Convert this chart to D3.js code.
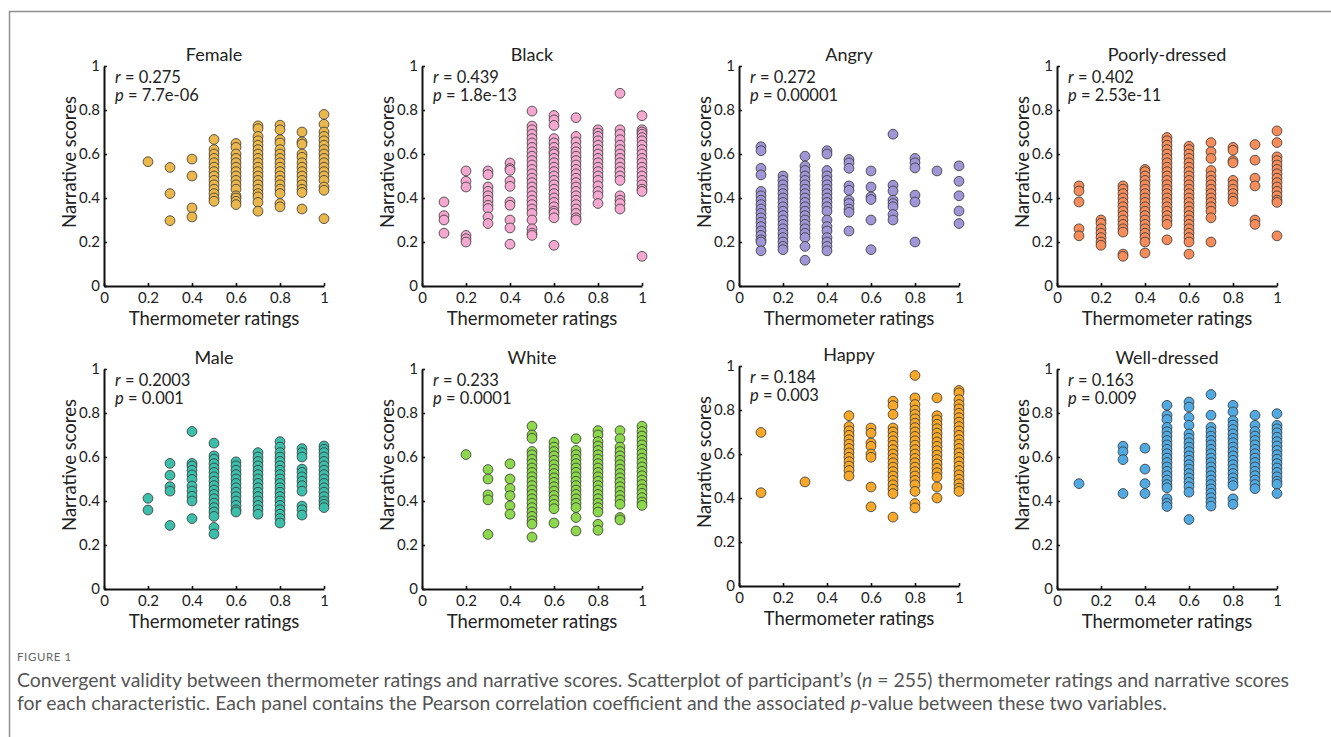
<!DOCTYPE html>
<html>
<head>
<meta charset="utf-8">
<script src="https://cdn.jsdelivr.net/npm/d3@7"></script>
<style>
  html, body { margin: 0; padding: 0; background: #fff; }
  svg { display: block; }
</style>
</head>
<body>
<div id="chart"></div>
<script>
// ---- data ----
const panelTitles = ['Female', 'Black', 'Angry', 'Poorly-dressed', 'Male', 'White', 'Happy', 'Well-dressed'];
const rValues = ['0.275', '0.439', '0.272', '0.402', '0.2003', '0.233', '0.184', '0.163'];
const pValues = ['7.7e-06', '1.8e-13', '0.00001', '2.53e-11', '0.001', '0.0001', '0.003', '0.009'];
const axisTicks = [0, 0.2, 0.4, 0.6, 0.8, 1];
const tickLabels = ['0', '0.2', '0.4', '0.6', '0.8', '1'];

// each entry: [thermometer rating, narrative scores]
const femaleScores = [
  [0.2, [0.565]],
  [0.3, [0.539, 0.42, 0.297]],
  [0.4, [0.577, 0.50, 0.355, 0.314]],
  [0.5, [0.666, 0.62, 0.60, 0.58, 0.56, 0.54, 0.52, 0.50, 0.48, 0.46, 0.44, 0.42, 0.40, 0.385]],
  [0.6, [0.648, 0.63, 0.60, 0.58, 0.56, 0.54, 0.52, 0.50, 0.48, 0.46, 0.44, 0.41, 0.40, 0.385, 0.37]],
  [0.7, [0.728, 0.715, 0.68, 0.66, 0.64, 0.62, 0.60, 0.58, 0.56, 0.54, 0.52, 0.50, 0.48, 0.46, 0.44, 0.42, 0.405, 0.38, 0.34]],
  [0.8, [0.731, 0.71, 0.665, 0.65, 0.62, 0.60, 0.58, 0.56, 0.54, 0.52, 0.50, 0.48, 0.46, 0.44, 0.42, 0.375, 0.36]],
  [0.9, [0.70, 0.655, 0.645, 0.60, 0.585, 0.56, 0.54, 0.52, 0.50, 0.48, 0.46, 0.44, 0.425, 0.35]],
  [1.0, [0.78, 0.735, 0.70, 0.68, 0.66, 0.64, 0.62, 0.60, 0.58, 0.56, 0.54, 0.52, 0.50, 0.48, 0.45, 0.435, 0.306]]
];
const blackScores = [
  [0.1, [0.382, 0.32, 0.30, 0.24]],
  [0.2, [0.523, 0.476, 0.45, 0.23, 0.215, 0.20]],
  [0.3, [0.523, 0.506, 0.45, 0.43, 0.41, 0.39, 0.367, 0.352, 0.314, 0.284]],
  [0.4, [0.559, 0.534, 0.526, 0.477, 0.453, 0.382, 0.367, 0.30, 0.264, 0.19]],
  [0.5, [0.795, 0.727, 0.71, 0.69, 0.67, 0.65, 0.63, 0.61, 0.59, 0.57, 0.55, 0.53, 0.51, 0.49, 0.47, 0.45, 0.43, 0.41, 0.39, 0.37, 0.35, 0.33, 0.30, 0.26, 0.24, 0.23]],
  [0.6, [0.775, 0.755, 0.73, 0.67, 0.65, 0.63, 0.61, 0.60, 0.58, 0.56, 0.54, 0.52, 0.50, 0.48, 0.46, 0.44, 0.42, 0.40, 0.38, 0.36, 0.34, 0.33, 0.31, 0.185]],
  [0.7, [0.765, 0.68, 0.655, 0.63, 0.61, 0.59, 0.57, 0.55, 0.53, 0.51, 0.49, 0.47, 0.45, 0.43, 0.41, 0.39, 0.37, 0.35, 0.33, 0.31, 0.30]],
  [0.8, [0.71, 0.695, 0.68, 0.66, 0.64, 0.62, 0.60, 0.58, 0.56, 0.54, 0.52, 0.50, 0.48, 0.455, 0.43, 0.41, 0.375]],
  [0.9, [0.876, 0.71, 0.69, 0.665, 0.64, 0.62, 0.60, 0.58, 0.56, 0.54, 0.52, 0.50, 0.48, 0.41, 0.39, 0.375, 0.35]],
  [1.0, [0.774, 0.71, 0.70, 0.69, 0.675, 0.66, 0.64, 0.62, 0.60, 0.58, 0.56, 0.54, 0.52, 0.50, 0.48, 0.46, 0.44, 0.43, 0.135]]
];
const angryScores = [
  [0.1, [0.633, 0.615, 0.535, 0.505, 0.43, 0.41, 0.39, 0.37, 0.35, 0.33, 0.31, 0.29, 0.27, 0.25, 0.23, 0.21, 0.20, 0.16]],
  [0.2, [0.50, 0.48, 0.46, 0.44, 0.42, 0.40, 0.38, 0.36, 0.34, 0.32, 0.30, 0.28, 0.26, 0.24, 0.22, 0.20, 0.18, 0.165]],
  [0.3, [0.59, 0.545, 0.525, 0.50, 0.48, 0.46, 0.44, 0.42, 0.40, 0.38, 0.36, 0.34, 0.32, 0.30, 0.28, 0.26, 0.24, 0.22, 0.18, 0.117]],
  [0.4, [0.615, 0.60, 0.525, 0.50, 0.48, 0.46, 0.44, 0.42, 0.40, 0.38, 0.36, 0.34, 0.30, 0.27, 0.25, 0.22, 0.20, 0.18, 0.16]],
  [0.5, [0.575, 0.56, 0.535, 0.455, 0.435, 0.39, 0.375, 0.35, 0.335, 0.25]],
  [0.6, [0.523, 0.45, 0.405, 0.393, 0.30, 0.165]],
  [0.7, [0.69, 0.458, 0.432, 0.39, 0.375, 0.36, 0.325, 0.30]],
  [0.8, [0.58, 0.56, 0.537, 0.413, 0.382, 0.20]],
  [0.9, [0.523]],
  [1.0, [0.546, 0.476, 0.41, 0.341, 0.284]]
];
const poorlyScores = [
  [0.1, [0.455, 0.432, 0.382, 0.26, 0.228]],
  [0.2, [0.30, 0.285, 0.26, 0.24, 0.22, 0.20, 0.185]],
  [0.3, [0.455, 0.44, 0.42, 0.40, 0.38, 0.36, 0.34, 0.32, 0.30, 0.28, 0.26, 0.245, 0.145, 0.135]],
  [0.4, [0.53, 0.52, 0.50, 0.48, 0.46, 0.44, 0.42, 0.40, 0.38, 0.36, 0.34, 0.32, 0.30, 0.28, 0.26, 0.24, 0.22, 0.20, 0.15]],
  [0.5, [0.675, 0.66, 0.64, 0.62, 0.60, 0.58, 0.56, 0.54, 0.52, 0.50, 0.48, 0.46, 0.44, 0.42, 0.40, 0.38, 0.36, 0.34, 0.32, 0.30, 0.28, 0.21]],
  [0.6, [0.635, 0.62, 0.60, 0.58, 0.56, 0.54, 0.52, 0.50, 0.48, 0.46, 0.44, 0.42, 0.40, 0.38, 0.36, 0.34, 0.32, 0.30, 0.28, 0.26, 0.24, 0.22, 0.20, 0.145]],
  [0.7, [0.652, 0.61, 0.58, 0.525, 0.50, 0.48, 0.46, 0.44, 0.42, 0.40, 0.38, 0.36, 0.34, 0.31, 0.20]],
  [0.8, [0.63, 0.617, 0.57, 0.56, 0.48, 0.46, 0.44, 0.42, 0.40, 0.385]],
  [0.9, [0.643, 0.572, 0.49, 0.455, 0.30, 0.28]],
  [1.0, [0.705, 0.652, 0.587, 0.57, 0.55, 0.53, 0.51, 0.49, 0.47, 0.45, 0.43, 0.41, 0.39, 0.38, 0.228]]
];
const maleScores = [
  [0.2, [0.412, 0.359]],
  [0.3, [0.571, 0.517, 0.465, 0.445, 0.289]],
  [0.4, [0.716, 0.571, 0.559, 0.54, 0.518, 0.498, 0.468, 0.445, 0.422, 0.40, 0.32]],
  [0.5, [0.663, 0.605, 0.59, 0.57, 0.55, 0.53, 0.51, 0.49, 0.47, 0.45, 0.43, 0.41, 0.39, 0.37, 0.35, 0.33, 0.28, 0.25]],
  [0.6, [0.578, 0.56, 0.54, 0.52, 0.50, 0.48, 0.46, 0.44, 0.42, 0.40, 0.38, 0.36, 0.35]],
  [0.7, [0.62, 0.60, 0.58, 0.56, 0.54, 0.52, 0.50, 0.48, 0.46, 0.44, 0.42, 0.40, 0.38, 0.36, 0.34]],
  [0.8, [0.67, 0.645, 0.62, 0.60, 0.58, 0.56, 0.54, 0.52, 0.50, 0.48, 0.46, 0.44, 0.42, 0.40, 0.38, 0.36, 0.34, 0.32, 0.30]],
  [0.9, [0.638, 0.62, 0.60, 0.545, 0.53, 0.51, 0.49, 0.47, 0.445, 0.377, 0.36, 0.336]],
  [1.0, [0.65, 0.635, 0.62, 0.60, 0.58, 0.56, 0.54, 0.52, 0.50, 0.48, 0.46, 0.44, 0.42, 0.40, 0.385, 0.37]]
];
const whiteScores = [
  [0.2, [0.611]],
  [0.3, [0.543, 0.50, 0.428, 0.405, 0.248]],
  [0.4, [0.569, 0.50, 0.457, 0.424, 0.378, 0.34]],
  [0.5, [0.74, 0.70, 0.685, 0.625, 0.61, 0.59, 0.57, 0.55, 0.53, 0.51, 0.49, 0.47, 0.45, 0.43, 0.41, 0.39, 0.37, 0.35, 0.33, 0.31, 0.295, 0.236]],
  [0.6, [0.667, 0.645, 0.625, 0.605, 0.585, 0.565, 0.545, 0.525, 0.505, 0.485, 0.465, 0.445, 0.425, 0.405, 0.385, 0.365, 0.30]],
  [0.7, [0.683, 0.63, 0.61, 0.59, 0.57, 0.55, 0.53, 0.51, 0.49, 0.47, 0.45, 0.43, 0.41, 0.39, 0.37, 0.325, 0.264]],
  [0.8, [0.72, 0.70, 0.67, 0.65, 0.63, 0.61, 0.59, 0.57, 0.55, 0.53, 0.51, 0.49, 0.47, 0.45, 0.43, 0.41, 0.39, 0.37, 0.35, 0.294, 0.267]],
  [0.9, [0.72, 0.683, 0.645, 0.625, 0.605, 0.585, 0.565, 0.545, 0.525, 0.505, 0.485, 0.465, 0.445, 0.425, 0.405, 0.385, 0.325, 0.314]],
  [1.0, [0.74, 0.716, 0.695, 0.675, 0.655, 0.635, 0.615, 0.595, 0.575, 0.555, 0.535, 0.515, 0.495, 0.475, 0.455, 0.435, 0.415, 0.395, 0.38]]
];
const happyScores = [
  [0.1, [0.698, 0.424]],
  [0.3, [0.473]],
  [0.5, [0.774, 0.725, 0.705, 0.685, 0.665, 0.645, 0.625, 0.605, 0.585, 0.565, 0.545, 0.525, 0.50]],
  [0.6, [0.718, 0.695, 0.65, 0.635, 0.60, 0.585, 0.45, 0.36]],
  [0.7, [0.84, 0.82, 0.78, 0.718, 0.70, 0.68, 0.66, 0.64, 0.62, 0.60, 0.58, 0.56, 0.54, 0.52, 0.50, 0.48, 0.46, 0.44, 0.42, 0.313]],
  [0.8, [0.957, 0.855, 0.825, 0.80, 0.78, 0.76, 0.74, 0.72, 0.70, 0.68, 0.66, 0.64, 0.62, 0.60, 0.58, 0.56, 0.54, 0.52, 0.50, 0.48, 0.46, 0.43, 0.375, 0.355]],
  [0.9, [0.855, 0.774, 0.755, 0.735, 0.715, 0.695, 0.675, 0.655, 0.635, 0.615, 0.595, 0.575, 0.555, 0.535, 0.515, 0.495, 0.45, 0.40]],
  [1.0, [0.889, 0.878, 0.847, 0.825, 0.805, 0.785, 0.765, 0.745, 0.725, 0.705, 0.685, 0.665, 0.645, 0.625, 0.605, 0.585, 0.565, 0.545, 0.525, 0.505, 0.485, 0.465, 0.445, 0.43]]
];
const wellScores = [
  [0.1, [0.479]],
  [0.3, [0.649, 0.624, 0.588, 0.434]],
  [0.4, [0.64, 0.545, 0.479, 0.434]],
  [0.5, [0.835, 0.79, 0.77, 0.735, 0.715, 0.695, 0.675, 0.655, 0.635, 0.615, 0.595, 0.575, 0.555, 0.535, 0.515, 0.495, 0.475, 0.46, 0.41, 0.39, 0.375]],
  [0.6, [0.85, 0.827, 0.78, 0.744, 0.705, 0.685, 0.665, 0.645, 0.625, 0.605, 0.585, 0.565, 0.545, 0.525, 0.505, 0.485, 0.465, 0.44, 0.316]],
  [0.7, [0.884, 0.79, 0.735, 0.715, 0.695, 0.675, 0.655, 0.635, 0.615, 0.595, 0.575, 0.555, 0.535, 0.515, 0.495, 0.475, 0.455, 0.435, 0.415, 0.395, 0.377]],
  [0.8, [0.835, 0.805, 0.765, 0.745, 0.725, 0.705, 0.685, 0.665, 0.645, 0.625, 0.605, 0.585, 0.565, 0.545, 0.525, 0.505, 0.485, 0.47, 0.41, 0.385]],
  [0.9, [0.79, 0.744, 0.716, 0.695, 0.675, 0.655, 0.635, 0.615, 0.595, 0.575, 0.555, 0.535, 0.515, 0.495, 0.475, 0.456]],
  [1.0, [0.797, 0.744, 0.728, 0.71, 0.69, 0.67, 0.65, 0.63, 0.61, 0.59, 0.57, 0.55, 0.53, 0.51, 0.49, 0.476, 0.434]]
];
const panelScores = [femaleScores, blackScores, angryScores, poorlyScores, maleScores, whiteScores, happyScores, wellScores];

// ---- styles / layout ----
const panelColors = ['#EAB74C', '#F4A8D0', '#A096D7', '#F58C5A', '#3CBEAA', '#8CD74B', '#F8A828', '#50AAE1'];
const colLeft = [104, 422, 739, 1057];
const rowTop = [66, 369];
const yShift = [0, 0, 0, 0, 0, 0, -3, 0];
const plotW = 220, plotH = 220;
const FONT = 'Lato, "Open Sans", sans-serif';

const W = 1331, H = 737;
const svg = d3.select('#chart').append('svg')
  .attr('width', W).attr('height', H)
  .attr('viewBox', `0 0 ${W} ${H}`)
  .style('font-family', FONT);

// frame lines (top + left)
svg.append('path')
  .attr('d', `M9.5,737 V11.5 H1331`)
  .attr('fill', 'none')
  .attr('stroke', '#8f8f8f')
  .attr('stroke-width', 1.5);

panelTitles.forEach((title, i) => {
  const left = colLeft[i % 4];
  const top = rowTop[Math.floor(i / 4)] + yShift[i];

  const x = d3.scaleLinear().domain([0, 1]).range([0, plotW]);
  const y = d3.scaleLinear().domain([0, 1]).range([plotH, 0]);

  const g = svg.append('g').attr('transform', `translate(${left},${top})`);

  // axes, MATLAB style: ticks inward, labels outside
  const xAxis = d3.axisBottom(x).tickValues(axisTicks)
    .tickFormat((d, k) => tickLabels[k]).tickSizeInner(-3).tickSizeOuter(0).tickPadding(6);
  const yAxis = d3.axisLeft(y).tickValues(axisTicks)
    .tickFormat((d, k) => tickLabels[k]).tickSizeInner(-3).tickSizeOuter(0).tickPadding(7);

  const gx = g.append('g').attr('transform', `translate(0,${plotH})`).call(xAxis);
  const gy = g.append('g').call(yAxis);
  [gx, gy].forEach(a => {
    a.select('.domain').attr('stroke', '#111').attr('stroke-width', 2);
    a.selectAll('.tick line').attr('stroke', '#111').attr('stroke-width', 1.6);
    a.selectAll('.tick text').attr('fill', '#222').style('font-size', '15px').style('font-family', FONT);
  });
  gy.selectAll('.tick text').attr('x', -4);

  // points
  const pts = [];
  panelScores[i].forEach(([rating, scores]) => scores.forEach(s => pts.push([rating, s])));
  g.append('g').selectAll('circle')
    .data(pts)
    .enter()
    .append('circle')
    .attr('cx', d => x(d[0]))
    .attr('cy', d => y(d[1]))
    .attr('r', 4.9)
    .attr('fill', panelColors[i])
    .attr('stroke', '#333')
    .attr('stroke-width', 0.8);

  // title
  g.append('text')
    .attr('x', plotW / 2).attr('y', -5)
    .attr('text-anchor', 'middle')
    .attr('fill', '#222')
    .style('font-size', '18px')
    .text(title);

  // r / p annotation
  const ann = g.append('g').attr('fill', '#222').style('font-size', '16.5px');
  const t1 = ann.append('text').attr('x', 11).attr('y', 17);
  t1.append('tspan').style('font-style', 'italic').text('r');
  t1.append('tspan').text(' = ' + rValues[i]);
  const t2 = ann.append('text').attr('x', 11).attr('y', 35);
  t2.append('tspan').style('font-style', 'italic').text('p');
  t2.append('tspan').text(' = ' + pValues[i]);

  // axis labels
  g.append('text')
    .attr('x', plotW / 2).attr('y', plotH + 38.5)
    .attr('text-anchor', 'middle')
    .attr('fill', '#222')
    .style('font-size', '18.5px')
    .text('Thermometer ratings');
  g.append('text')
    .attr('transform', `translate(-28,${plotH / 2 - 14}) rotate(-90)`)
    .attr('text-anchor', 'middle')
    .attr('fill', '#222')
    .style('font-size', '18.5px')
    .text('Narrative scores');
});

// caption
svg.append('text')
  .attr('x', 17).attr('y', 661)
  .attr('fill', '#666')
  .style('font-size', '11.5px')
  .style('letter-spacing', '0.6px')
  .text('FIGURE 1');

const cap1 = svg.append('text').attr('x', 17).attr('y', 687).attr('fill', '#555').style('font-size', '16px');
cap1.append('tspan').text('Convergent validity between thermometer ratings and narrative scores. Scatterplot of participant\u2019s (');
cap1.append('tspan').style('font-style', 'italic').text('n');
cap1.append('tspan').text(' = 255) thermometer ratings and narrative scores');

const cap2 = svg.append('text').attr('x', 17).attr('y', 710).attr('fill', '#555').style('font-size', '16px');
cap2.append('tspan').text('for each characteristic. Each panel contains the Pearson correlation coefficient and the associated ');
cap2.append('tspan').style('font-style', 'italic').text('p');
cap2.append('tspan').text('-value between these two variables.');

// fit caption width to the figure's line length
const w1 = cap1.node().getComputedTextLength();
const capSize = 16 * 1273 / w1;
cap1.style('font-size', capSize + 'px');
cap2.style('font-size', capSize + 'px');
</script>
</body>
</html>
